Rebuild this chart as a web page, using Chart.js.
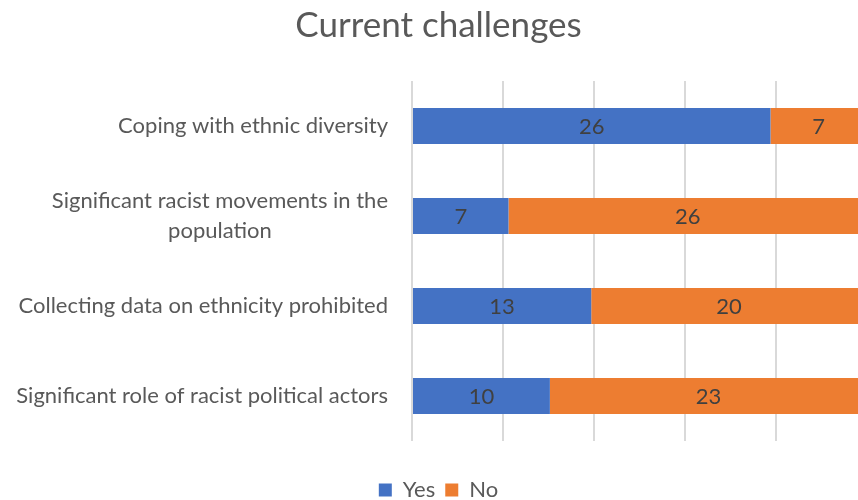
<!DOCTYPE html>
<html>
<head>
<meta charset="utf-8">
<title>Current challenges</title>
<script src="https://cdn.jsdelivr.net/npm/chart.js@4.4.1/dist/chart.umd.min.js"></script>
<style>
  html, body { margin: 0; padding: 0; background: #fff; overflow: hidden; }
  #wrap { width: 880px; height: 500px; }
</style>
</head>
<body>
<div id="wrap"><canvas id="myChart" width="880" height="500"></canvas></div>
<script>
// survey answers per challenge (number of respondents)
var categories = [
  "Coping with ethnic diversity",
  ["Significant racist movements in the", "population"],
  "Collecting data on ethnicity prohibited",
  "Significant role of racist political actors"
];
var yesValues = [26, 7, 13, 10];
var noValues = [7, 26, 20, 23];
var seriesNames = ["Yes", "No"];
var barColors = ["#4472C4", "#ED7D31"];

// every row adds up to the same total, axis runs 0..total in five steps
var total = yesValues[0] + noValues[0];

var FONT = "Lato";

// category names drawn to the left of the plot, wrapped lines centred on each other
var categoryLabels = {
  id: "categoryLabels",
  afterDraw: function (chart) {
    var ctx = chart.ctx;
    var yScale = chart.scales.y;
    var right = chart.chartArea.left - 24;
    var lineH = 30;
    ctx.save();
    ctx.font = "22px " + FONT;
    ctx.fillStyle = "#595959";
    ctx.textAlign = "center";
    ctx.textBaseline = "middle";
    categories.forEach(function (lab, i) {
      var lines = Array.isArray(lab) ? lab : [lab];
      var widest = 0;
      lines.forEach(function (l) { widest = Math.max(widest, ctx.measureText(l).width); });
      var cx = right - widest / 2;
      var cy = yScale.getPixelForTick(i) - (lines.length - 1) * lineH / 2;
      lines.forEach(function (l, k) { ctx.fillText(l, cx, cy + k * lineH); });
    });
    ctx.restore();
  }
};

// value written in the middle of each bar segment
var valueLabels = {
  id: "valueLabels",
  afterDatasetsDraw: function (chart) {
    var ctx = chart.ctx;
    ctx.save();
    ctx.font = "22px " + FONT;
    ctx.fillStyle = "#404040";
    ctx.textAlign = "center";
    ctx.textBaseline = "middle";
    chart.data.datasets.forEach(function (ds, d) {
      chart.getDatasetMeta(d).data.forEach(function (bar, i) {
        var c = bar.getCenterPoint();
        ctx.fillText(ds.data[i], c.x, c.y + 1);
      });
    });
    ctx.restore();
  }
};

new Chart("myChart", {
  type: "bar",
  data: {
    labels: categories,
    datasets: [
      { label: seriesNames[0], data: yesValues, backgroundColor: barColors[0] },
      { label: seriesNames[1], data: noValues, backgroundColor: barColors[1] }
    ]
  },
  options: {
    indexAxis: "y",
    responsive: false,
    animation: false,
    events: [],
    barPercentage: 0.4,
    categoryPercentage: 1,
    layout: { padding: { left: 10, right: 13, top: 0, bottom: -11 } },
    scales: {
      x: {
        stacked: true,
        min: 0,
        max: total,
        ticks: { display: false, stepSize: total / 5 },
        grid: { color: "#D9D9D9", lineWidth: 2, drawTicks: false },
        border: { display: false },
        afterFit: function (scale) { scale.height = 28; }
      },
      y: {
        stacked: true,
        ticks: { display: false },
        grid: { display: false },
        border: { display: false },
        afterFit: function (scale) { scale.width = 402; }
      }
    },
    plugins: {
      title: {
        display: true,
        text: "Current challenges",
        color: "#595959",
        font: { family: FONT, size: 35, weight: "normal" },
        padding: { top: 5, bottom: 34 }
      },
      legend: {
        position: "bottom",
        labels: {
          color: "#595959",
          font: { family: FONT, size: 22 },
          boxWidth: 13,
          boxHeight: 13,
          padding: 10
        }
      },
      tooltip: { enabled: false }
    }
  },
  plugins: [categoryLabels, valueLabels]
});
</script>
</body>
</html>
